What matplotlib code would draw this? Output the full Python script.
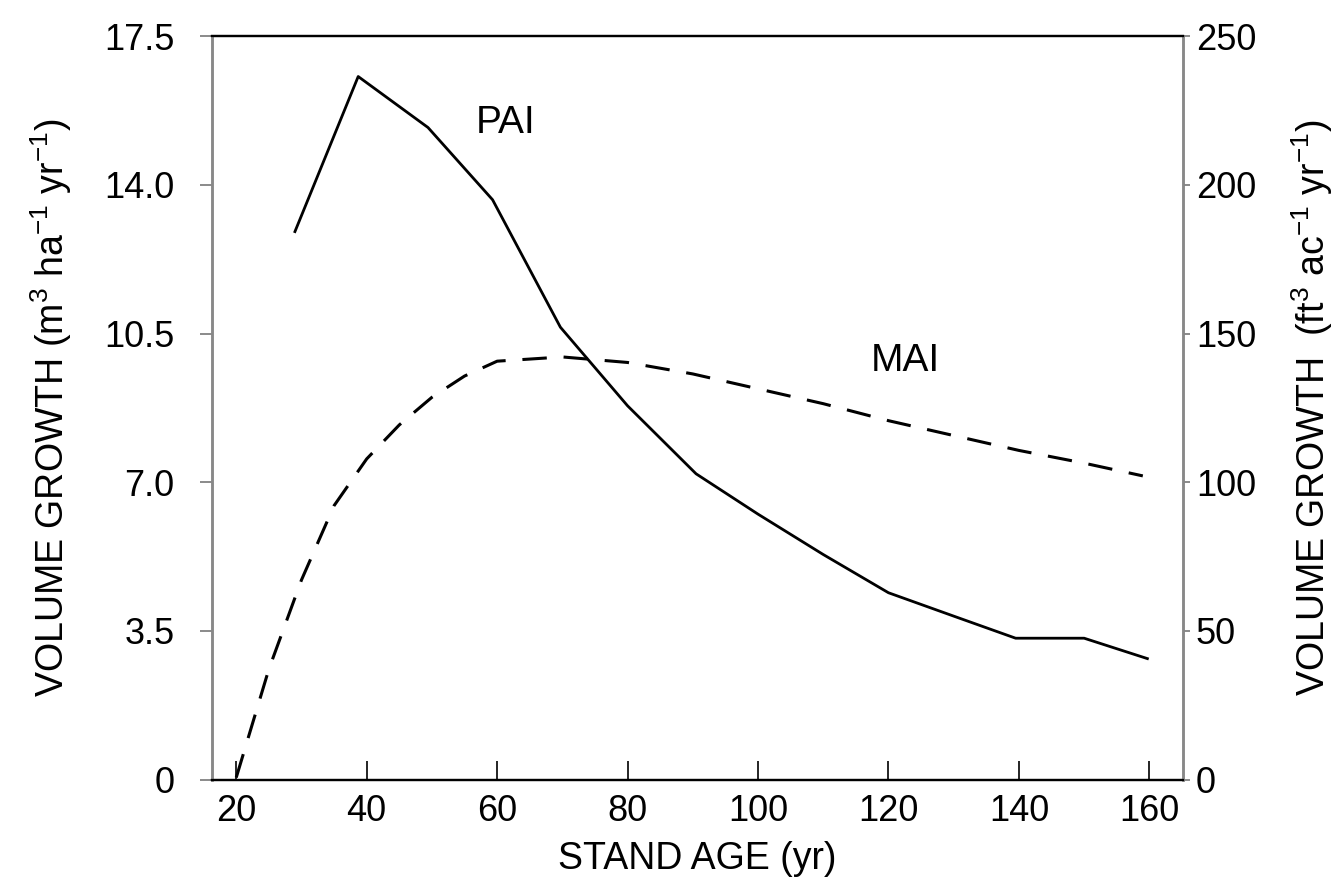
import numpy as np
import matplotlib.pyplot as plt

plt.rcParams['font.family'] = ['Liberation Sans', 'DejaVu Sans']
plt.rcParams['mathtext.default'] = 'regular'

# periodic annual increment (solid line)
pai_age = [29, 38.7, 49.4, 59.3, 69.7, 80, 90.5, 100, 110, 120, 130, 139.5, 150, 159.7]
pai_vol = [12.9, 16.55, 15.35, 13.65, 10.65, 8.8, 7.2, 6.25, 5.3, 4.4, 3.85, 3.33, 3.33, 2.85]

# mean annual increment (dashed line)
mai_age = [20, 25, 30, 35, 40, 45, 50, 55, 60, 70, 80, 90, 100, 110, 120, 130, 140, 150, 159]
mai_vol = [0.05, 2.6, 4.7, 6.45, 7.55, 8.35, 9.0, 9.5, 9.85, 9.95, 9.82, 9.55, 9.2, 8.85, 8.45, 8.1, 7.75, 7.45, 7.15]

x_ticks = [20, 40, 60, 80, 100, 120, 140, 160]
y_ticks = [0, 3.5, 7.0, 10.5, 14.0, 17.5]
y_labels = ["0", "3.5", "7.0", "10.5", "14.0", "17.5"]
y2_ticks = [0, 50, 100, 150, 200, 250]

fig = plt.figure(figsize=(13.34, 8.82), dpi=100)
ax = fig.add_axes([0.159, 0.116, 0.728, 0.843])

ax.plot(pai_age, pai_vol, color="black", lw=2.0)
ax.plot(mai_age, mai_vol, color="black", lw=2.2, dashes=(8, 5.5))

ax.text(61.3, 15.45, "PAI", fontsize=28, ha="center", va="center")
ax.text(122.6, 9.85, "MAI", fontsize=28, ha="center", va="center")

ax.set_xlim(16.3, 165.2)
ax.set_ylim(0, 17.5)
ax.set_xticks(x_ticks)
ax.set_yticks(y_ticks)
ax.set_yticklabels(y_labels)
ax.tick_params(axis="x", direction="in", length=14, width=1.2, labelsize=26, pad=10)
ax.tick_params(axis="y", direction="out", length=9, width=1.2, labelsize=26, pad=18, color="#777777")
ax.set_xlabel("STAND AGE (yr)", fontsize=27, labelpad=9)
ax.set_ylabel("VOLUME GROWTH (m$^3$ ha$^{-1}$ yr$^{-1}$)", fontsize=27, labelpad=22)

ax2 = ax.twinx()
ax2.set_ylim(0, 250)
ax2.set_yticks(y2_ticks)
ax2.tick_params(axis="y", direction="out", length=5, width=1.2, labelsize=26, pad=4, color="#777777")
ax2.set_ylabel("VOLUME GROWTH  (ft$^3$ ac$^{-1}$ yr$^{-1}$)", fontsize=27, labelpad=24)

for a in (ax, ax2):
    a.spines["left"].set_color("#888888")
    a.spines["right"].set_color("#888888")
    a.spines["left"].set_linewidth(1.8)
    a.spines["right"].set_linewidth(1.8)
    a.spines["top"].set_linewidth(1.6)
    a.spines["bottom"].set_linewidth(1.6)

fig.savefig("out.png", dpi=100)
